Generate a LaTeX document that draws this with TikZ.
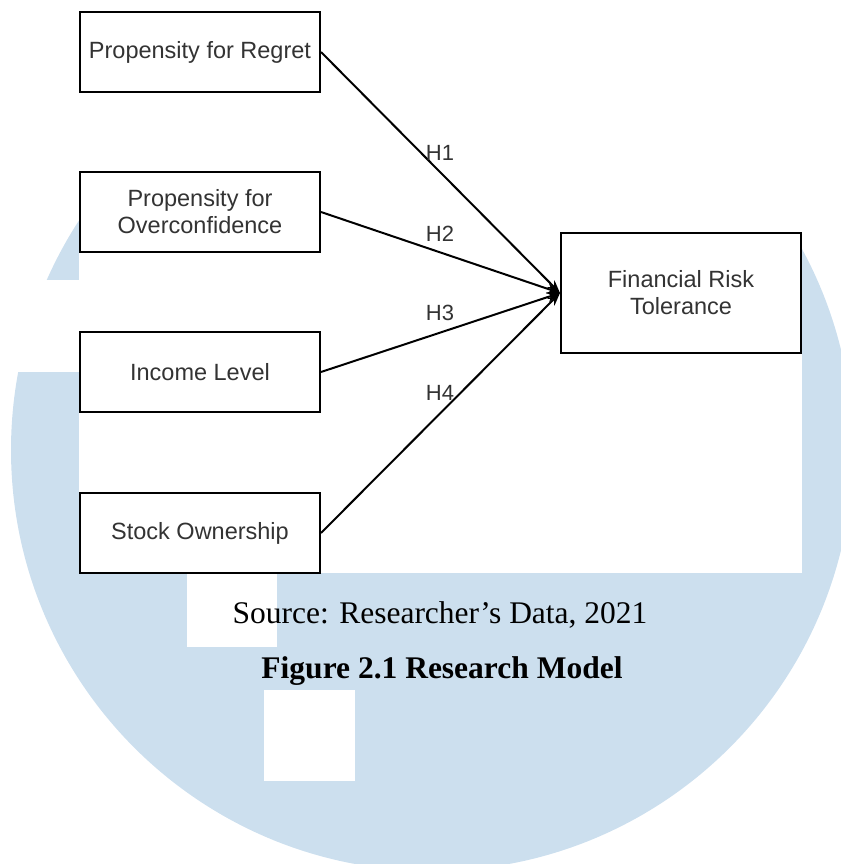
\documentclass[tikz,border=0pt]{standalone}
\usepackage{fontspec}
\setmainfont{Liberation Serif}
\newfontfamily\boxfont{Liberation Sans}
\usepackage{tikz}
\usetikzlibrary{arrows.meta}
\definecolor{wmblue}{RGB}{204,223,238}
\definecolor{boxtext}{RGB}{51,51,51}
\tikzstyle{varbox} = [draw=black, fill=white, line width=2pt,
    rectangle, minimum width=240pt, minimum height=80pt, inner sep=0pt,
    align=center, text=boxtext, font=\boxfont\fontsize{23.5}{27}\selectfont]
\tikzstyle{hyplabel} = [text=boxtext, font=\boxfont\fontsize{22}{24}\selectfont]
\tikzstyle{link} = [line width=2pt, -{Stealth[length=13pt,width=10pt]}]
\tikzstyle{captext} = [anchor=base, font=\fontsize{31.5}{36}\selectfont]

\begin{document}
\begin{tikzpicture}[x=1pt, y=-1pt]
\useasboundingbox (0,0) rectangle (840,864);
% watermark behind the figure
\fill[wmblue] (432,450) circle (421pt);
\fill[white] (79,0) rectangle (802,573);
\fill[white] (0,280) rectangle (79,372);
\fill[white] (187,573) rectangle (277,647);
\fill[white] (264,690) rectangle (355,781);

\node [varbox] (regret) at (200,52) {Propensity for Regret};
\node [varbox] (overconf) at (200,212) {Propensity for\\Overconfidence};
\node [varbox] (income) at (200,372) {Income Level};
\node [varbox] (stock) at (200,533) {Stock Ownership};
\node [varbox, minimum height=120pt] (frt) at (681,293) {Financial Risk\\Tolerance};

\draw[link] (regret.east) -- (frt.west);
\draw[link] (overconf.east) -- (frt.west);
\draw[link] (income.east) -- (frt.west);
\draw[link] (stock.east) -- (frt.west);

\node[hyplabel] (h1) at (440,153) {H1};
\node[hyplabel] (h2) at (440,234) {H2};
\node[hyplabel] (h3) at (440,313) {H3};
\node[hyplabel] (h4) at (440,393) {H4};

\node[captext] (source) at (440,623) {Source: Researcher’s Data, 2021};
\node[captext, font=\bfseries\fontsize{31.5}{36}\selectfont] (title) at (442,678) {Figure 2.1 Research Model};
\end{tikzpicture}
\end{document}
